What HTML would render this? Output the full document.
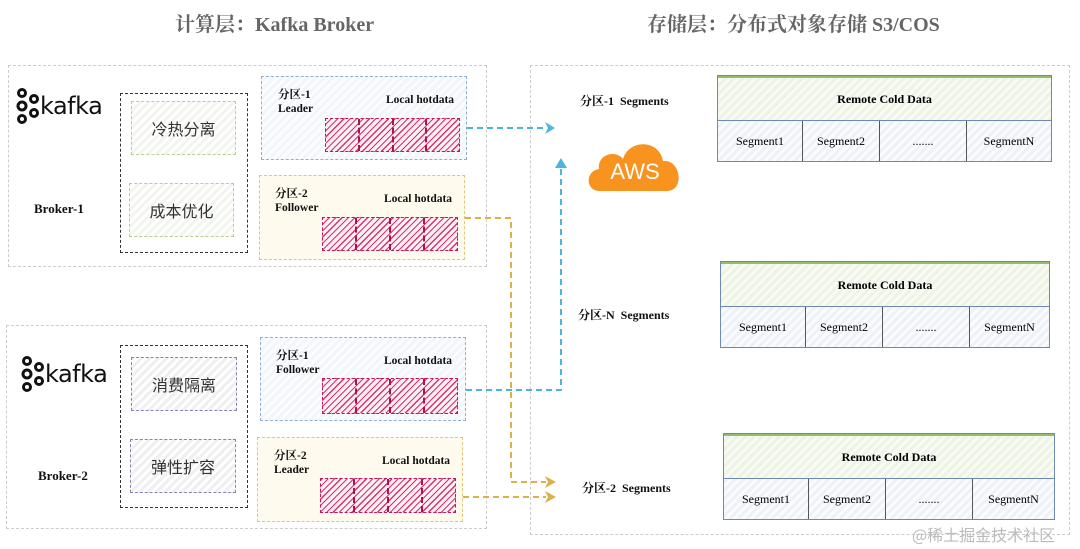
<!DOCTYPE html>
<html><head><meta charset="utf-8"><style>
body{margin:0;width:1080px;height:549px;background:#fff;overflow:hidden;position:relative;font-family:"Liberation Serif","Noto Serif CJK SC",serif}
.a{position:absolute;box-sizing:border-box}
.t{font-weight:bold;color:#111}
.title{font-family:"Liberation Serif","Noto Serif CJK SC",serif;font-size:20px;font-weight:bold;color:#666}
.outer{border:1px dashed #ccc}
.blk{border:1.5px dashed #333}
.green{border:1.5px dashed #b9cf8e;background:repeating-linear-gradient(-45deg,#f3f6ef 0 3px,#fff 3px 6px);font-family:"Noto Sans CJK SC",sans-serif;font-size:16px;color:#333;display:flex;align-items:center;justify-content:center}
.purp{border:1.5px dashed #8a7fb8;background:repeating-linear-gradient(-45deg,#f0f0f3 0 3px,#fff 3px 6px);font-family:"Noto Sans CJK SC",sans-serif;font-size:16px;color:#333;display:flex;align-items:center;justify-content:center}
.pb{border:1.5px dashed #90aed6;background:repeating-linear-gradient(-45deg,#f2f6fb 0 3px,#fbfcfe 3px 6px)}
.py{border:1.5px dashed #e3c575;background:#fefaee}
.hat{display:flex;border:1.5px dashed #c2185b;background:repeating-linear-gradient(-45deg,#d6336c 0 1.2px,#fdf0f4 1.2px 4.5px)}
.hat div{flex:1;border-right:2px dashed #b0104f}.hat div:last-child{border-right:none}
.lbl{font-size:11.5px;line-height:14px}
.st{border:1.5px solid #6e88b6;box-sizing:border-box}
.st .top{height:42px;border-bottom:1.5px solid #6e88b6;background:repeating-linear-gradient(-45deg,#eef3e6 0 3px,#f8faf4 3px 6px);border-top:2px solid #8fbf6a;display:flex;align-items:center;justify-content:center;font-weight:bold;font-size:12px}
.st .row{display:flex;height:40px;background:repeating-linear-gradient(-45deg,#eef2f8 0 3px,#fafbfd 3px 6px)}
.st .row div{border-right:1.5px solid #555;display:flex;align-items:center;justify-content:center;font-size:12px}
.st .row div:last-child{border-right:none}
.kafka{font-family:"DejaVu Sans",sans-serif;font-size:24px;color:#111;letter-spacing:-0.5px}
</style></head><body>
<div class="a title" style="left:175px;top:8px">计算层：Kafka Broker</div>
<div class="a title" style="left:647px;top:8px">存储层：分布式对象存储 S3/COS</div>

<!-- broker 1 -->
<div class="a outer" style="left:8px;top:65px;width:479px;height:202px"></div>
<div class="a blk" style="left:120px;top:93px;width:128px;height:160px"></div>
<div class="a green" style="left:131px;top:101px;width:105px;height:54px">冷热分离</div>
<div class="a green" style="left:129px;top:183px;width:105px;height:54px">成本优化</div>
<div class="a t" style="left:34px;top:201px;font-size:13px">Broker-1</div>
<svg class="a" style="left:14px;top:88px" width="30" height="36"><g fill="none" stroke="#111" stroke-width="3"><circle cx="8" cy="5" r="3.5"/><circle cx="8" cy="18" r="4"/><circle cx="8" cy="31" r="3.5"/><circle cx="20" cy="11" r="3.5"/><circle cx="20" cy="25" r="3.5"/></g></svg>
<div class="a kafka" style="left:40px;top:92px">kafka</div>
<div class="a pb" style="left:261px;top:76px;width:206px;height:84px"></div>
<div class="a t lbl" style="left:278px;top:88px">分区-1<br>Leader</div>
<div class="a t lbl" style="left:386px;top:93px">Local hotdata</div>
<div class="a hat" style="left:325px;top:118px;width:135px;height:34px"><div></div><div></div><div></div><div></div></div>
<div class="a py" style="left:259px;top:175px;width:206px;height:85px"></div>
<div class="a t lbl" style="left:275px;top:187px">分区-2<br>Follower</div>
<div class="a t lbl" style="left:384px;top:192px">Local hotdata</div>
<div class="a hat" style="left:322px;top:217px;width:136px;height:34px"><div></div><div></div><div></div><div></div></div>

<!-- broker 2 -->
<div class="a outer" style="left:6px;top:325px;width:481px;height:204px"></div>
<div class="a blk" style="left:120px;top:345px;width:128px;height:163px"></div>
<div class="a purp" style="left:131px;top:357px;width:106px;height:54px">消费隔离</div>
<div class="a purp" style="left:130px;top:439px;width:106px;height:54px">弹性扩容</div>
<div class="a t" style="left:38px;top:468px;font-size:13px">Broker-2</div>
<svg class="a" style="left:19px;top:356px" width="30" height="36"><g fill="none" stroke="#111" stroke-width="3"><circle cx="8" cy="5" r="3.5"/><circle cx="8" cy="18" r="4"/><circle cx="8" cy="31" r="3.5"/><circle cx="20" cy="11" r="3.5"/><circle cx="20" cy="25" r="3.5"/></g></svg>
<div class="a kafka" style="left:45px;top:360px">kafka</div>
<div class="a pb" style="left:260px;top:337px;width:206px;height:84px"></div>
<div class="a t lbl" style="left:276px;top:349px">分区-1<br>Follower</div>
<div class="a t lbl" style="left:384px;top:354px">Local hotdata</div>
<div class="a hat" style="left:322px;top:378px;width:136px;height:36px"><div></div><div></div><div></div><div></div></div>
<div class="a py" style="left:257px;top:437px;width:206px;height:85px"></div>
<div class="a t lbl" style="left:274px;top:449px">分区-2<br>Leader</div>
<div class="a t lbl" style="left:382px;top:454px">Local hotdata</div>
<div class="a hat" style="left:320px;top:478px;width:136px;height:35px"><div></div><div></div><div></div><div></div></div>

<!-- storage -->
<div class="a outer" style="left:530px;top:65px;width:540px;height:470px"></div>
<div class="a t" style="left:580px;top:92px;font-size:12px">分区-1&nbsp; Segments</div>
<div class="a t" style="left:578px;top:306px;font-size:12px">分区-N&nbsp; Segments</div>
<div class="a t" style="left:582px;top:479px;font-size:12px">分区-2&nbsp; Segments</div>
<svg class="a" style="left:585px;top:135px" width="100" height="60"><path d="M15 56 C0 56 0 36 14 34 C12 20 30 14 38 24 C44 4 74 4 78 26 C96 24 100 56 82 56 Z" fill="#f7931e"/><text x="50" y="44" font-family="Liberation Sans" font-size="22" fill="#fff" text-anchor="middle">AWS</text></svg>

<div class="a st" style="left:717px;top:75px;width:335px"><div class="top">Remote Cold Data</div><div class="row"><div style="width:84px">Segment1</div><div style="width:76px">Segment2</div><div style="width:86px">.......</div><div style="flex:1">SegmentN</div></div></div>
<div class="a st" style="left:720px;top:261px;width:330px"><div class="top">Remote Cold Data</div><div class="row"><div style="width:84px">Segment1</div><div style="width:76px">Segment2</div><div style="width:86px">.......</div><div style="flex:1">SegmentN</div></div></div>
<div class="a st" style="left:723px;top:433px;width:332px"><div class="top">Remote Cold Data</div><div class="row"><div style="width:84px">Segment1</div><div style="width:76px">Segment2</div><div style="width:86px">.......</div><div style="flex:1">SegmentN</div></div></div>

<svg class="a" style="left:0;top:0" width="1080" height="549">
<g fill="none" stroke-width="2" stroke-dasharray="6 4">
<path d="M467 128 H546" stroke="#4cb5dd"/>
<path d="M466 390 H561 V168" stroke="#4cb5dd"/>
<path d="M465 218 H511 V482 H546" stroke="#d9b24c"/>
<path d="M463 497 H546" stroke="#d9b24c"/>
</g>
<g>
<path d="M545 122 L555 128 L545 134 L548 128Z" fill="#4cb5dd"/>
<path d="M555 168 L561 158 L567 168 Z" fill="#4cb5dd"/>
<path d="M545 476 L556 482 L545 488 L548 482Z" fill="#d9b24c"/>
<path d="M545 491 L556 497 L545 503 L548 497Z" fill="#d9b24c"/>
</g>
</svg>
<div class="a" style="left:912px;top:522px;font-family:'Noto Sans CJK SC',sans-serif;font-size:16px;color:#bbb">@稀土掘金技术社区</div>
</body></html>
